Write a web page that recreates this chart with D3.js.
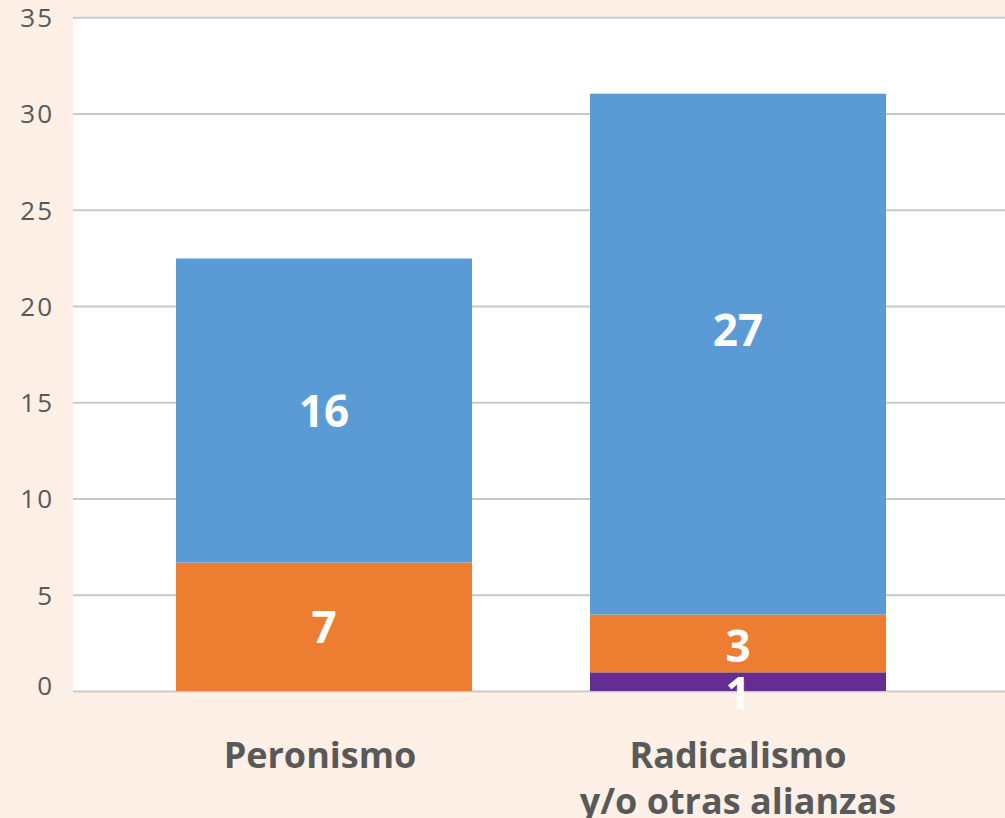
<!DOCTYPE html>
<html><head><meta charset="utf-8">
<script src="https://cdn.jsdelivr.net/npm/d3@7"></script>
<style>html,body{margin:0;padding:0;background:#fef0e7;}svg{display:block;}</style>
</head><body>
<script>
const categories = [["Peronismo"], ["Radicalismo", "y/o otras alianzas"]];
const seriesNames = ["purple", "orange", "blue"];
const purpleValues = [0, 0.97];
const orangeValues = [6.67, 3.0];
const blueValues = [15.8, 27.06];
const purpleLabels = ["", "1"];
const orangeLabels = ["7", "3"];
const blueLabels = ["16", "27"];
const yTicks = [0, 5, 10, 15, 20, 25, 30, 35];

const W = 1005, H = 818;
const colors = {purple: "#662d91", orange: "#ed7d31", blue: "#5b9bd5"};
// label vertical offsets (px) per series/category, for placement only
const labelShift = {purple: [0, 11], orange: [0, 3], blue: [1, -24]};
const svg = d3.select("body").append("svg").attr("width", W).attr("height", H);
svg.append("rect").attr("width", W).attr("height", H).attr("fill", "#fef0e7");

const plotL = 73, plotR = 1005;
const y = d3.scaleLinear().domain([0, 35]).range([691, 17.25]);
const x = d3.scaleBand().domain(categories.map((d, i) => i)).range([117, 945])
  .paddingInner(0.285).paddingOuter(0.1425);

svg.append("rect").attr("x", plotL).attr("y", y(35)).attr("width", plotR - plotL)
  .attr("height", y(0) - y(35)).attr("fill", "#ffffff");

const yAxis = d3.axisLeft(y).tickValues(yTicks).tickSize(-(plotR - plotL)).tickPadding(19);
const ga = svg.append("g").attr("transform", `translate(${plotL},0)`).call(yAxis);
ga.select(".domain").remove();
ga.selectAll(".tick line").attr("stroke", "#c9c9c9").attr("stroke-width", 2.2);
ga.selectAll(".tick text").attr("fill", "#595959").attr("font-family", "'Open Sans', sans-serif")
  .attr("font-size", 26).attr("font-weight", 400).attr("letter-spacing", 2).attr("dy", "0.36em");
ga.selectAll(".tick").filter(d => d === 0).select("text").attr("dy", "0.15em");

const table = categories.map((c, i) => ({
  i, purple: purpleValues[i], orange: orangeValues[i], blue: blueValues[i]
}));
const labels = {purple: purpleLabels, orange: orangeLabels, blue: blueLabels};
const stack = d3.stack().keys(seriesNames)(table);

stack.forEach(layer => {
  svg.append("g").selectAll("rect").data(layer).join("rect")
    .attr("x", d => x(d.data.i))
    .attr("width", x.bandwidth())
    .attr("y", d => y(d[1]))
    .attr("height", d => y(d[0]) - y(d[1]))
    .attr("fill", colors[layer.key]);
});
stack.forEach(layer => {
  svg.append("g").selectAll("text").data(layer).join("text")
    .attr("x", d => x(d.data.i) + x.bandwidth() / 2)
    .attr("y", d => (y(d[0]) + y(d[1])) / 2 + labelShift[layer.key][d.data.i])
    .attr("dy", "0.36em")
    .attr("text-anchor", "middle")
    .attr("fill", "#ffffff").attr("font-family", "'Open Sans', sans-serif")
    .attr("font-weight", 700).attr("font-size", 44)
    .text(d => labels[layer.key][d.data.i]);
});

categories.forEach((lines, i) => {
  const t = svg.append("text").attr("text-anchor", "middle")
    .attr("fill", "#585a5a").attr("font-family", "'Open Sans', sans-serif")
    .attr("font-weight", 700).attr("font-size", 36);
  lines.forEach((ln, k) => {
    t.append("tspan").attr("x", x(i) + x.bandwidth() / 2 - (i === 0 ? 4 : 0)).attr("y", 768 + k * 46).text(ln);
  });
});
</script>
</body></html>
